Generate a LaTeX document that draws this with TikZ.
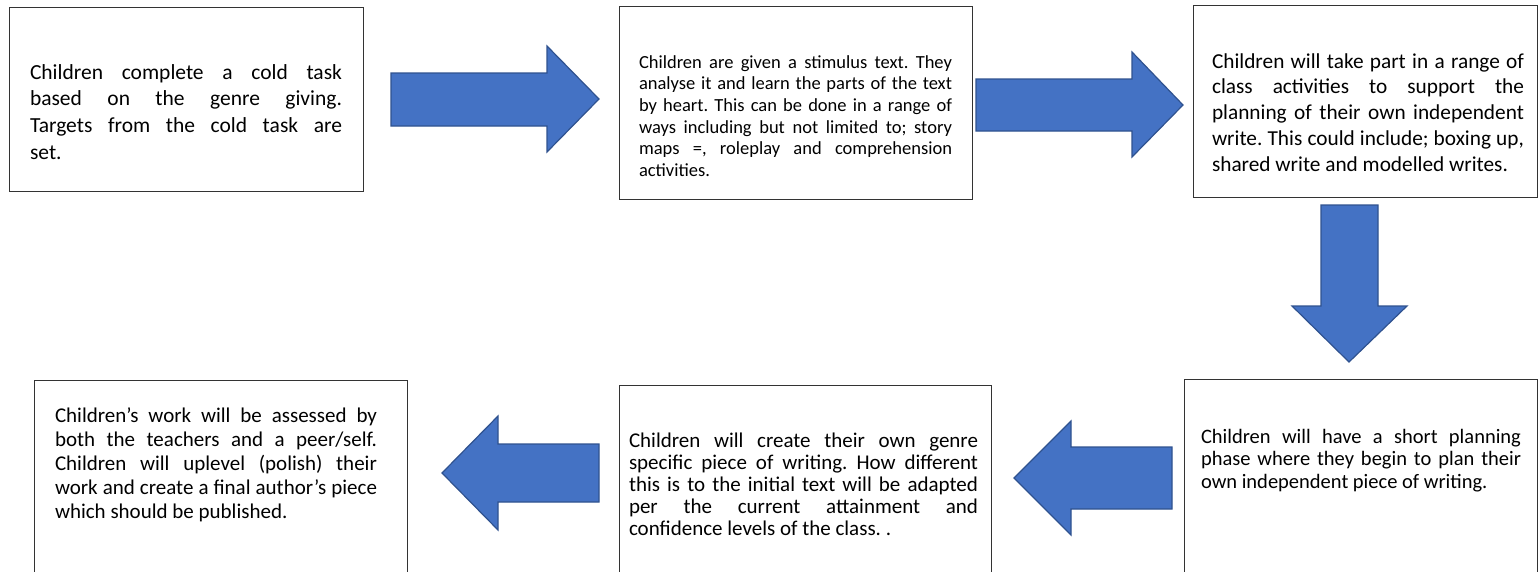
\documentclass[tikz,border=0pt]{standalone}
\usepackage{fontspec}
\setmainfont{Carlito}
\definecolor{arrowfill}{HTML}{4472C4}
\definecolor{arrowline}{HTML}{2F528F}
\newcommand{\jl}[1]{\makebox[\linewidth][s]{#1}\\}
\frenchspacing
\begin{document}
\begin{tikzpicture}[x=1pt,y=-1pt,
  stepbox/.style={draw=black!80, line width=1.2pt, fill=white, inner sep=0pt, anchor=north west},
  blockarrow/.style={fill=arrowfill, draw=arrowline, line width=1.2pt, line join=miter},
  txt/.style={inner sep=0pt, outer sep=0pt, anchor=base west, text=black}]
\useasboundingbox (0,0) rectangle (1539,571);
% boxes
\node[stepbox, minimum width=354pt, minimum height=184pt] (b1) at (9,7) {};
\node[stepbox, minimum width=353pt, minimum height=193pt] (b2) at (619,6) {};
\node[stepbox, minimum width=344pt, minimum height=192pt] (b3) at (1193,5) {};
\node[stepbox, minimum width=353pt, minimum height=200pt] (b4) at (1184,379) {};
\node[stepbox, minimum width=372pt, minimum height=200pt] (b5) at (619,385) {};
\node[stepbox, minimum width=373pt, minimum height=200pt] (b6) at (34,380) {};
% texts
\node[txt] (t1) at (30,79) {\fontsize{21.5}{26.7}\selectfont\begin{minipage}[t]{312pt}%
\jl{Children complete a cold task}\jl{based on the genre giving.}\jl{Targets from the cold task are}set.\end{minipage}};
\node[txt] (t2) at (639,68) {\fontsize{18.5}{21.7}\selectfont\begin{minipage}[t]{313pt}%
\jl{Children are given a stimulus text. They}\jl{analyse it and learn the parts of the text}\jl{by heart. This can be done in a range of}\jl{ways including but not limited to; story}\jl{maps =, roleplay and comprehension}activities.\end{minipage}};
\node[txt] (t3) at (1212,68) {\fontsize{21.3}{25.8}\selectfont\begin{minipage}[t]{312pt}%
\jl{Children will take part in a range of}\jl{class activities to support the}\jl{planning of their own independent}\jl{write. This could include; boxing up,}shared write and modelled writes.\end{minipage}};
\node[txt] (t4) at (1201,443) {\fontsize{20.5}{22.7}\selectfont\begin{minipage}[t]{320pt}%
\jl{Children will have a short planning}\jl{phase where they begin to plan their}own independent piece of writing.\end{minipage}};
\node[txt] (t5) at (629,447) {\fontsize{21}{22}\selectfont\begin{minipage}[t]{349pt}%
\jl{Children will create their own genre}\jl{specific piece of writing. How different}\jl{this is to the initial text will be adapted}\jl{per the current attainment and}confidence levels of the class. .\end{minipage}};
\node[txt] (t6) at (55,422) {\fontsize{21}{24}\selectfont\begin{minipage}[t]{322pt}%
\jl{Children’s work will be assessed by}\jl{both the teachers and a peer/self.}\jl{Children will uplevel (polish) their}\jl{work and create a final author’s piece}which should be published.\end{minipage}};
% block arrows
\draw[blockarrow] (391,73) -- (547,73) -- (547,46) -- (599,99) -- (547,152) -- (547,126) -- (391,126) -- cycle;
\draw[blockarrow] (976,79) -- (1132,79) -- (1132,52) -- (1183,105) -- (1132,157) -- (1132,131) -- (976,131) -- cycle;
\draw[blockarrow] (1321,205) -- (1378,205) -- (1378,306) -- (1407,306) -- (1349,362) -- (1292,306) -- (1321,306) -- cycle;
\draw[blockarrow] (1172,447) -- (1071,447) -- (1071,421) -- (1014,478) -- (1071,535) -- (1071,509) -- (1172,509) -- cycle;
\draw[blockarrow] (599,444) -- (498,444) -- (498,416) -- (442,473) -- (498,530) -- (498,502) -- (599,502) -- cycle;
\end{tikzpicture}
\end{document}
